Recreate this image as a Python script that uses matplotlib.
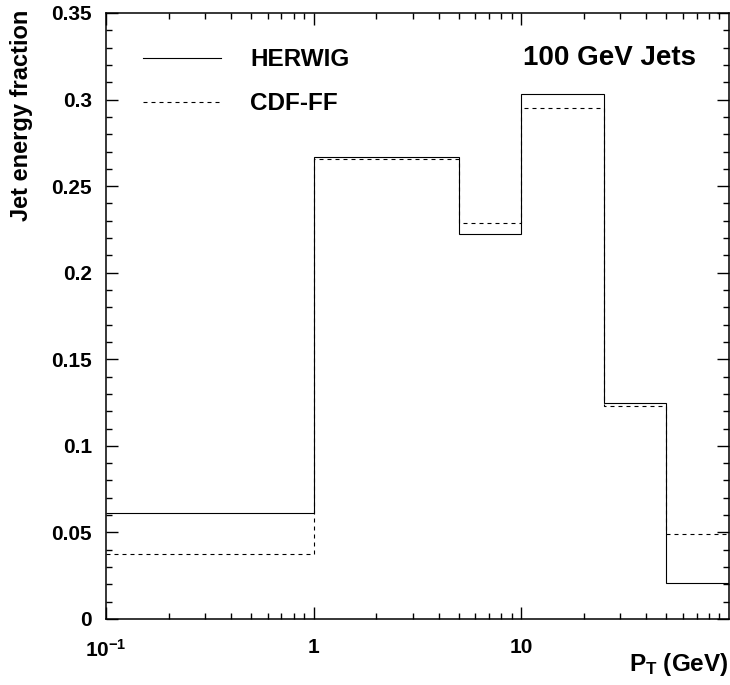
import numpy as np
import matplotlib
matplotlib.use("Agg")
import matplotlib.pyplot as plt
from matplotlib.ticker import FixedLocator, FuncFormatter

plt.rcParams["font.family"] = ["Liberation Sans", "DejaVu Sans"]
plt.rcParams["font.weight"] = "bold"
plt.rcParams["mathtext.fontset"] = "custom"
plt.rcParams["mathtext.rm"] = "Liberation Sans:bold"
plt.rcParams["mathtext.it"] = "Liberation Sans:bold"
plt.rcParams["mathtext.bf"] = "Liberation Sans:bold"

# bin edges in pT (GeV) and jet energy fractions per bin
bordes = [0.1, 1, 5, 10, 25, 50, 100]
herwig = [0.061, 0.267, 0.2225, 0.303, 0.1245, 0.021]
cdf_ff = [0.0375, 0.2655, 0.229, 0.295, 0.123, 0.049]

W, H = 730, 685
fig = plt.figure(figsize=(W / 100, H / 100), dpi=100, facecolor="white")
izq, der, abajo, arriba = 106, 729, 619, 13
ax = fig.add_axes([izq / W, (H - abajo) / H, (der - izq) / W, (abajo - arriba) / H])

ax.stairs(herwig, bordes, baseline=None, color="black", linewidth=0.8)
ax.stairs(cdf_ff, bordes, baseline=None, color="black", linewidth=0.8,
          linestyle=(0, (3.6, 3.6)))

ax.set_xscale("log")
ax.set_xlim(0.1, 100)
ax.set_ylim(0, 0.35)

ax.set_yticks(np.arange(0, 0.351, 0.05))
ax.yaxis.set_minor_locator(FixedLocator(np.arange(0, 0.351, 0.01)))
ax.yaxis.set_major_formatter(FuncFormatter(lambda v, p: f"{v:.2f}".rstrip("0").rstrip(".") if v else "0"))

ax.set_xticks([0.1, 1, 10])
ax.set_xticklabels([r"$10^{-1}$", "1", "10"])
menores = [m * 10.0 ** d for d in (-1, 0, 1) for m in range(2, 10)]
ax.xaxis.set_minor_locator(FixedLocator(menores))
ax.xaxis.set_minor_formatter(FuncFormatter(lambda v, p: ""))

ax.tick_params(which="both", direction="in", top=True, right=True, width=1, labelsize=15)
ax.tick_params(which="major", length=8.5)
ax.tick_params(which="minor", length=4.3)
ax.tick_params(axis="y", pad=10)
ax.tick_params(axis="x", pad=14)
for s in ax.spines.values():
    s.set_linewidth(1.1)

# legend drawn by hand like the original
ax.plot([0.059, 0.185], [0.9257, 0.9257], transform=ax.transAxes, color="black", linewidth=0.8)
ax.plot([0.059, 0.185], [0.8531, 0.8531], transform=ax.transAxes, color="black", linewidth=0.8,
        linestyle=(0, (3.6, 3.6)))
fig.text(250 / W, 1 - 59 / H, "HERWIG", fontsize=17.5, fontweight="bold", va="center", ha="left")
fig.text(250 / W, 1 - 103 / H, "CDF-FF", fontsize=17.5, fontweight="bold", va="center", ha="left")
fig.text(523 / W, 1 - 58 / H, "100 GeV Jets", fontsize=20, fontweight="bold", va="center", ha="left")

fig.text(728 / W, 1 - 671 / H, r"$P_T$ (GeV)", fontsize=17.5, fontweight="bold", ha="right", va="baseline")
fig.text(22 / W, 1 - 10 / H, "Jet energy fraction", fontsize=17, fontweight="bold",
         rotation=90, ha="center", va="top")

fig.savefig("out.png", dpi=100)
